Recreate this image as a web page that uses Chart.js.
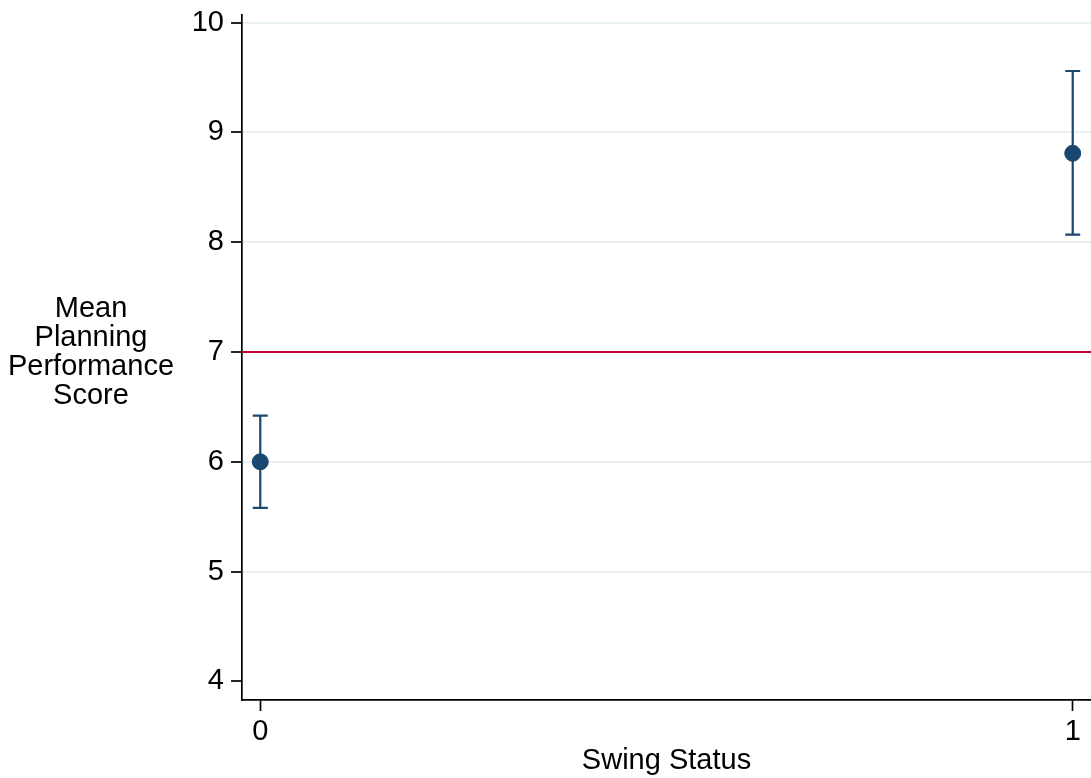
<!DOCTYPE html>
<html>
<head>
<meta charset="utf-8">
<script src="https://cdn.jsdelivr.net/npm/chart.js@4"></script>
<style>
  body { margin: 0; background: #fff; }
  canvas { display: block; }
</style>
</head>
<body>
<canvas id="chart" width="1091" height="778"></canvas>
<script>
// values
const swingStatus = [0, 1];
const meanScore = [6.0, 8.81];
const ciLower = [5.58, 8.07];
const ciUpper = [6.42, 9.56];
const refLine = 7;
const yTitleLines = ["Mean", "Planning", "Performance", "Score"];

const navy = "#1a476f";
const cranberry = "#c10534";
const fontFamily = "'Liberation Sans', Arial, Helvetica, sans-serif";
const fontSize = 29;

// red reference line and the error bars, drawn through the scales
const extrasPlugin = {
  id: "extras",
  beforeDatasetsDraw(chart) {
    const { ctx, chartArea, scales } = chart;
    const x = scales.x, y = scales.y;
    ctx.save();
    // reference line
    const ry = y.getPixelForValue(refLine);
    ctx.strokeStyle = cranberry;
    ctx.lineWidth = 2;
    ctx.beginPath();
    ctx.moveTo(chartArea.left, ry);
    ctx.lineTo(chartArea.right, ry);
    ctx.stroke();
    // error bars
    ctx.strokeStyle = navy;
    ctx.lineWidth = 2.2;
    swingStatus.forEach((s, i) => {
      const px = x.getPixelForValue(s);
      const lo = y.getPixelForValue(ciLower[i]);
      const hi = y.getPixelForValue(ciUpper[i]);
      ctx.beginPath();
      ctx.moveTo(px, lo); ctx.lineTo(px, hi);
      ctx.moveTo(px - 7.5, lo); ctx.lineTo(px + 7.5, lo);
      ctx.moveTo(px - 7.5, hi); ctx.lineTo(px + 7.5, hi);
      ctx.stroke();
    });
    ctx.restore();
  },
  afterDraw(chart) {
    // horizontal y-axis title, Stata style
    const { ctx } = chart;
    ctx.save();
    ctx.fillStyle = "#000";
    ctx.font = fontSize + "px " + fontFamily;
    ctx.textAlign = "center";
    ctx.textBaseline = "alphabetic";
    yTitleLines.forEach((t, i) => {
      ctx.fillText(t, 91, 317 + i * 29);
    });
    ctx.restore();
  }
};

new Chart(document.getElementById("chart"), {
  type: "scatter",
  data: {
    datasets: [{
      data: swingStatus.map((s, i) => ({ x: s, y: meanScore[i] })),
      backgroundColor: navy,
      borderColor: navy,
      pointRadius: 8,
      pointHoverRadius: 8
    }]
  },
  options: {
    responsive: false,
    animation: false,
    layout: { autoPadding: false, padding: { top: 15, right: 0, left: 0, bottom: 0 } },
    plugins: {
      legend: { display: false },
      tooltip: { enabled: false }
    },
    scales: {
      x: {
        type: "linear",
        min: -0.0225,
        max: 1.0225,
        afterFit: (scale) => {
          scale.height = 78;
          scale.paddingLeft = 0;
          scale.paddingRight = 0;
        },
        border: { color: "#000", width: 1.7 },
        grid: { drawOnChartArea: false, tickLength: 11, tickColor: "#000", tickWidth: 1.7 },
        ticks: {
          stepSize: 1,
          includeBounds: false,
          padding: 4,
          color: "#000",
          font: { size: fontSize, family: fontFamily }
        },
        title: {
          display: true,
          text: "Swing Status",
          color: "#000",
          font: { size: fontSize, family: fontFamily },
          padding: { top: 0, bottom: 0 }
        }
      },
      y: {
        min: 3.83,
        max: 10.07,
        afterFit: (scale) => {
          scale.width = 242;
          scale.paddingTop = 0;
          scale.paddingBottom = 0;
        },
        border: { color: "#000", width: 1.7 },
        grid: {
          color: (c) => (c.tick && c.tick.value === 4 ? "rgba(0,0,0,0)" : "#e8f0f1"),
          lineWidth: 2,
          tickLength: 11,
          tickColor: "#000",
          tickWidth: 1.7
        },
        ticks: {
          stepSize: 1,
          includeBounds: false,
          padding: 7,
          color: "#000",
          font: { size: fontSize, family: fontFamily }
        }
      }
    }
  },
  plugins: [extrasPlugin]
});
</script>
</body>
</html>
